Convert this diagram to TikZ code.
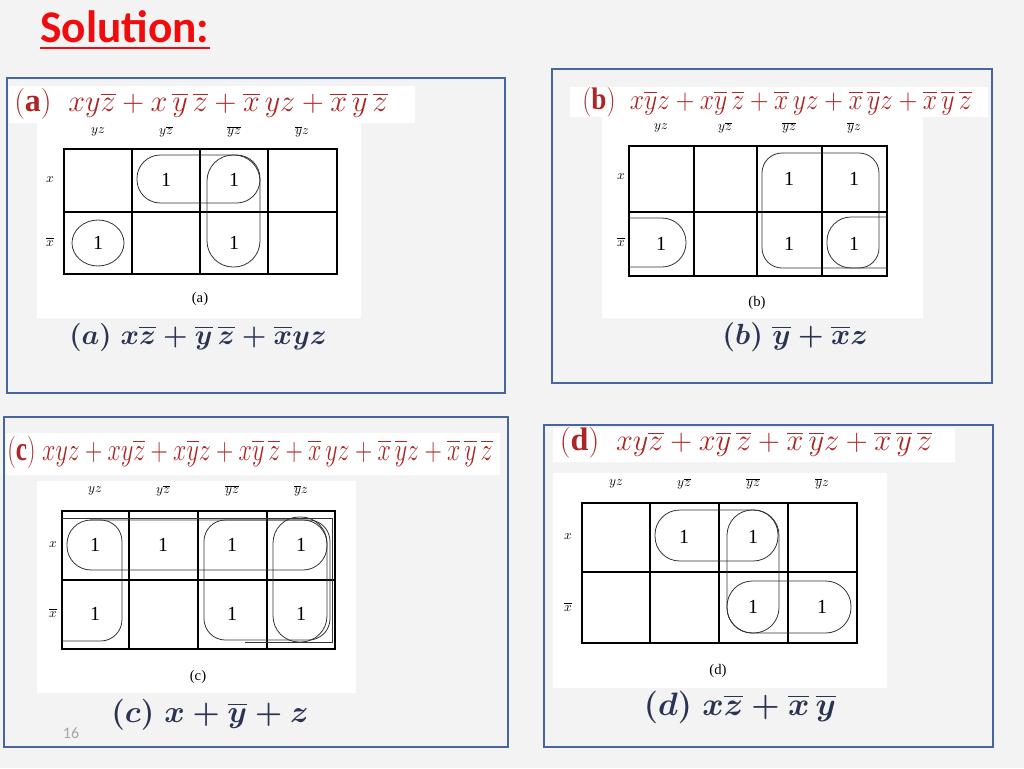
\documentclass[tikz,border=0pt]{standalone}
\usepackage{amsmath}
\usepackage{graphicx}
\usepackage{fontspec}
\setmainfont{Liberation Serif}
\newfontfamily\slidefont{Carlito}
\definecolor{slidebg}{RGB}{243,243,243}
\definecolor{framecol}{RGB}{72,102,158}
\definecolor{termred}{RGB}{172,38,38}
\definecolor{ansblue}{RGB}{42,52,82}
\definecolor{titlered}{RGB}{240,12,12}

\begin{document}
\begin{tikzpicture}[x=0.75pt,y=-0.75pt]
\tikzstyle{every node}=[inner sep=0pt]
\tikzstyle{panel}=[draw=framecol,line width=1.6pt,fill=slidebg]
\tikzstyle{kgrid}=[line width=1.1pt]
\tikzstyle{kloop}=[line width=0.6pt,black!80]
\tikzstyle{hdr}=[text=termred,font=\fontsize{22}{26}\selectfont]
\tikzstyle{ans}=[text=ansblue,font=\fontsize{22}{26}\selectfont\boldmath]
\tikzstyle{lbl}=[font=\fontsize{10}{11}\selectfont]
\tikzstyle{one}=[font=\fontsize{15}{17}\selectfont]
\tikzstyle{kcap}=[font=\fontsize{11}{12}\selectfont]
\useasboundingbox(0,0)rectangle(1024,768);
\fill[slidebg](0,0)rectangle(1024,768);
% title
\node[anchor=base west,text=titlered,font=\slidefont\bfseries\fontsize{34}{40}\selectfont](title) at (40,42){Solution:};
\draw[titlered,line width=2.2pt]([yshift=-4.5pt]title.base west)--([yshift=-4.5pt]title.base east);
% frames
\draw[panel](7,78)rectangle(505,393);
\draw[panel](552,69)rectangle(992,383);
\draw[panel](4,417)rectangle(508,747);
\draw[panel](544,425)rectangle(993,747);
% white strips and scans
\fill[white](9,86)rectangle(415,123) (37,123)rectangle(361,318);
\fill[white](570,87)rectangle(988,117) (602,117)rectangle(923,318);
\fill[white](6,433)rectangle(500,475) (37,481)rectangle(356,693);
\fill[white](553,428)rectangle(955,462) (553,473)rectangle(887,688);

% (a)
\node[hdr](hA) at (201,104){\resizebox*{280pt}{23pt}{$\mathbf{(a)}\;\; xy\overline{z}+x\,\overline{y}\,\overline{z}+\overline{x}\,yz+\overline{x}\,\overline{y}\,\overline{z}$}};
\draw[kgrid](64,149)rectangle(337,274) (64,212)--(337,212) (132,149)--(132,274) (200,149)--(200,274) (268,149)--(268,274);
\node[lbl](aC1) at (98,132){$yz$};
\node[lbl](aC2) at (166,132){$y\overline{z}$};
\node[lbl](aC3) at (234,132){$\overline{y}\overline{z}$};
\node[lbl](aC4) at (302,132){$\overline{y}z$};
\node[lbl](aR1) at (50,180){$x$};
\node[lbl](aR2) at (50,242){$\overline{x}$};
\node[one](a12) at (166,180){1};
\node[one](a13) at (234,180){1};
\node[one](a21) at (98,243){1};
\node[one](a23) at (234,243){1};
\draw[kloop,rounded corners=17.5pt](137,155)rectangle(260,203);
\draw[kloop,rounded corners=19.5pt](207,155)rectangle(260,267);
\draw[kloop](98,243)ellipse[x radius=26,y radius=23];
\node[kcap](aCap) at (200,299){(a)};
\node[ans](aAns) at (198,337){\resizebox{193pt}{!}{$(a)\;x\overline{z}+\overline{y}\,\overline{z}+\overline{x}yz$}};

% (b)
\node[hdr](hB) at (777,102){\resizebox*{292pt}{22pt}{$\mathbf{(b)}\;\; x\overline{y}z+x\overline{y}\,\overline{z}+\overline{x}\,yz+\overline{x}\,\overline{y}z+\overline{x}\,\overline{y}\,\overline{z}$}};
\draw[kgrid](629,146)rectangle(887,276) (629,212)--(887,212) (694,146)--(694,276) (757,146)--(757,276) (822,146)--(822,276);
\node[lbl](bC1) at (661,128){$yz$};
\node[lbl](bC2) at (725,128){$y\overline{z}$};
\node[lbl](bC3) at (789,128){$\overline{y}\overline{z}$};
\node[lbl](bC4) at (854,128){$\overline{y}z$};
\node[lbl](bR1) at (621,177){$x$};
\node[lbl](bR2) at (621,242){$\overline{x}$};
\node[one](b13) at (789,179){1};
\node[one](b14) at (854,179){1};
\node[one](b21) at (661,244){1};
\node[one](b23) at (789,244){1};
\node[one](b24) at (854,244){1};
\draw[kloop,rounded corners=15pt](762,153)rectangle(879,268);
\draw[kloop,rounded corners=18pt](628,218)--(686,218)--(686,267)--(628,267);
\draw[kloop,rounded corners=18pt](887,217)--(827,217)--(827,268)--(887,268);
\node[kcap](bCap) at (757,303){(b)};
\node[ans](bAns) at (795,337){\resizebox{109pt}{!}{$(b)\;\overline{y}+\overline{x}z$}};

% (c)
\node[hdr](hC) at (250,452){\resizebox*{364pt}{24pt}{$\mathbf{(c)}\; xyz+xy\overline{z}+x\overline{y}z+x\overline{y}\,\overline{z}+\overline{x}\,yz+\overline{x}\,\overline{y}z+\overline{x}\,\overline{y}\,\overline{z}$}};
\draw[kgrid](62,511)rectangle(335,649) (62,580)--(335,580) (129,511)--(129,649) (198,511)--(198,649) (267,511)--(267,649);
\node[lbl](cC1) at (95,491){$yz$};
\node[lbl](cC2) at (163,491){$y\overline{z}$};
\node[lbl](cC3) at (232,491){$\overline{y}\overline{z}$};
\node[lbl](cC4) at (301,491){$\overline{y}z$};
\node[lbl](cR1) at (53,545){$x$};
\node[lbl](cR2) at (53,613){$\overline{x}$};
\node[one](c11) at (95,545){1};
\node[one](c12) at (163,545){1};
\node[one](c13) at (232,545){1};
\node[one](c14) at (301,545){1};
\node[one](c21) at (95,614){1};
\node[one](c23) at (232,614){1};
\node[one](c24) at (301,614){1};
\draw[kloop,rounded corners=18pt](67,520)rectangle(327,570);
\draw[kloop,rounded corners=16pt](62,641)--(122,641)--(122,520)--(90,520);
\draw[kloop,rounded corners=16pt](204,520)rectangle(330,640);
\draw[kloop,rounded corners=19.5pt](273,517)rectangle(327,642);
\draw[kloop](62,518)--(332,518)--(332,642)--(245,642);
\node[kcap](cCap) at (198,677){(c)};
\node[ans](cAns) at (210,715){\resizebox{148pt}{!}{$(c)\;x+\overline{y}+z$}};
\node[text=gray!70,font=\slidefont\fontsize{12}{14}\selectfont](pgno) at (71,733){16};

% (d)
\node[hdr](hD) at (746,443){\resizebox*{279pt}{23pt}{$\mathbf{(d)}\;\; xy\overline{z}+x\overline{y}\,\overline{z}+\overline{x}\,\overline{y}z+\overline{x}\,\overline{y}\,\overline{z}$}};
\draw[kgrid](582,503)rectangle(857,643) (582,572)--(857,572) (650,503)--(650,643) (719,503)--(719,643) (788,503)--(788,643);
\node[lbl](dC1) at (616,484){$yz$};
\node[lbl](dC2) at (684,484){$y\overline{z}$};
\node[lbl](dC3) at (753,484){$\overline{y}\overline{z}$};
\node[lbl](dC4) at (822,484){$\overline{y}z$};
\node[lbl](dR1) at (568,537){$x$};
\node[lbl](dR2) at (568,607){$\overline{x}$};
\node[one](d12) at (684,537){1};
\node[one](d13) at (753,537){1};
\node[one](d23) at (753,607){1};
\node[one](d24) at (822,607){1};
\draw[kloop,rounded corners=18.5pt](655,510)rectangle(778,561);
\draw[kloop,rounded corners=19pt](727,510)rectangle(779,633);
\draw[kloop,rounded corners=19pt](727,581)rectangle(851,633);
\node[kcap](dCap) at (718,671){(d)};
\node[ans](dAns) at (740,707){\resizebox{144pt}{!}{$(d)\;x\overline{z}+\overline{x}\,\overline{y}$}};
\end{tikzpicture}
\end{document}
